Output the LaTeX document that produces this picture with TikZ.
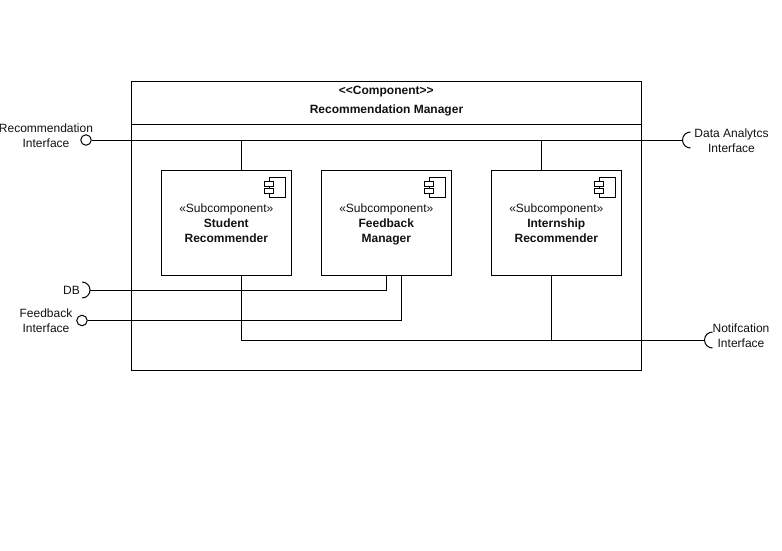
\documentclass[tikz,border=0pt]{standalone}
\usepackage{fontspec}
\setmainfont{Liberation Sans}
\usepackage{xcolor}
\usetikzlibrary{calc,positioning}
\definecolor{txtc}{HTML}{111111}
\tikzset{
  ln/.style={draw=black,line width=1pt},
  sub/.style={ln,minimum width=130pt,minimum height=105pt,inner sep=0pt},
  lb/.style={font=\fontsize{12pt}{15pt}\selectfont,align=center,text=txtc,inner sep=0pt},
  lbb/.style={lb,font=\fontsize{12pt}{15pt}\selectfont\bfseries},
  lolly/.style={ln,circle,minimum size=10.5pt,inner sep=0pt,fill=white}
}

\begin{document}
\begin{tikzpicture}[x=1pt,y=-1pt]
\useasboundingbox (0,0) rectangle (782,550);
% outer component
\node[ln,minimum width=510pt,minimum height=289pt,inner sep=0pt,anchor=north west] (mgr) at (130.5,80.5) {};
\draw[ln] (130.5,124)--(640.5,124);
\node[lbb] (stereo) at (386.3,91.5) {<{}<Component>{}>};
\node[lbb] (title) at (386.5,110) {Recommendation Manager};
% subcomponents
\node[sub,anchor=north west] (student) at (160.5,170) {};
\node[sub,anchor=north west] (feedback) at (320.5,170) {};
\node[sub,anchor=north west] (intern) at (490.5,170) {};
\node[lb,anchor=north] (studenttxt) at ($(student.north)+(0.3,34)$) {«Subcomponent»\\\textbf{Student}\\\textbf{Recommender}};
\node[lb,anchor=north] (feedbacktxt) at ($(feedback.north)+(0.3,34)$) {«Subcomponent»\\\textbf{Feedback}\\\textbf{Manager}};
\node[lb,anchor=north] (interntxt) at ($(intern.north)+(0.3,34)$) {«Subcomponent»\\\textbf{Internship}\\\textbf{Recommender}};
% component icons
\foreach \c in {student,feedback,intern}{
  \draw[ln,line width=0.8pt] ($(\c.north east)+(-22.5,7)$) rectangle ($(\c.north east)+(-6.5,27)$);
  \draw[ln,line width=0.8pt,fill=white] ($(\c.north east)+(-27,11)$) rectangle ($(\c.north east)+(-18,16)$);
  \draw[ln,line width=0.8pt,fill=white] ($(\c.north east)+(-27,18)$) rectangle ($(\c.north east)+(-18,23)$);
}
% interfaces
\node[lolly] (recif) at (86,140) {};
\node[lolly] (fbif) at (82,320.5) {};
\coordinate (dbif) at (90,290);
\coordinate (daif) at (682.5,140);
\coordinate (noif) at (704.5,340);
\node[lb] (recl) at (46,135.5) {Recommendation\\Interface};
\node[lb] (fbl) at (46,320.5) {Feedback\\Interface};
\node[lb] (dbl) at (71.5,290) {DB};
\node[lb] (dal) at (731.5,140.5) {Data Analytcs\\Interface};
\node[lb] (nol) at (741,335.5) {Notifcation\\Interface};
\draw[ln] (dbif) ++(-8,-8) arc[start angle=90,end angle=-90,radius=8pt];
\draw[ln] (daif) ++(8,-8) arc[start angle=90,end angle=270,radius=8pt];
\draw[ln] (noif) ++(8,-8) arc[start angle=90,end angle=270,radius=8pt];
% connectors
\coordinate (j1) at ($(student.north|-recif)+(15,0)$);
\coordinate (j2) at ($(intern.north|-recif)+(-15,0)$);
\coordinate (j3) at ($(intern.south)+(-5,0)$);
\coordinate (j4) at (j3|-noif);
\coordinate (j5) at ($(student.south)+(15,0)$);
\coordinate (f1) at ($(feedback.south)+(0.5,0)$);
\coordinate (f2) at ($(feedback.south)+(15.5,0)$);
\draw[ln] (recif)--(daif);
\draw[ln] (j1)--(j1|-student.north);
\draw[ln] (j2)--(j2|-intern.north);
\draw[ln] (dbif)-|(f1);
\draw[ln] (fbif)-|(f2);
\draw[ln] (j5)|-(noif);
\draw[ln] (j3)--(j4);
\end{tikzpicture}
\end{document}
